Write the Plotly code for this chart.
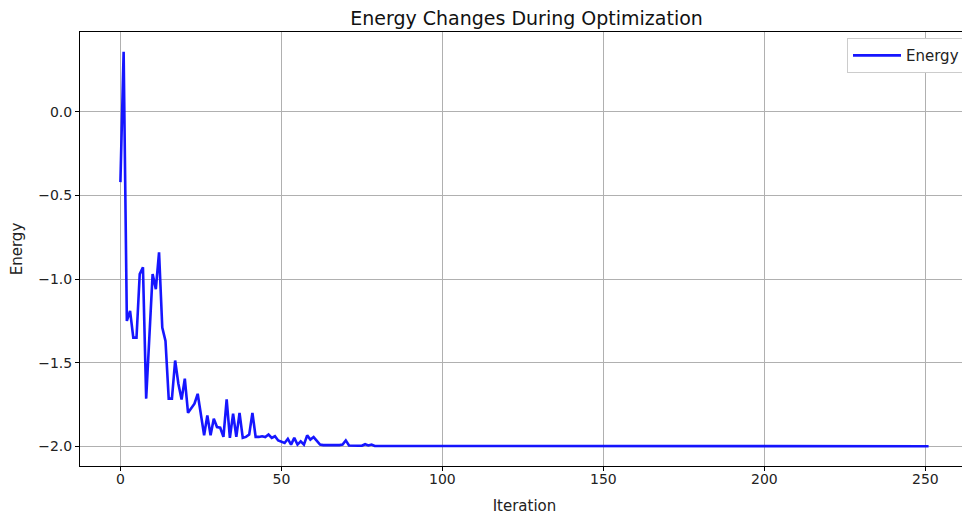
import plotly.graph_objects as go

# Energy values per iteration
energy_head = [
    -0.42, 0.36, -1.25, -1.19, -1.35, -1.35, -0.97, -0.93, -1.715, -1.35,
    -0.97, -1.06, -0.84, -1.29, -1.37, -1.715, -1.715, -1.487, -1.626, -1.72,
    -1.596, -1.80, -1.775, -1.745, -1.686, -1.825, -1.934, -1.815, -1.934, -1.835,
    -1.885, -1.889, -1.944, -1.72, -1.95, -1.805, -1.944, -1.80, -1.95, -1.944,
    -1.93, -1.80, -1.944, -1.944, -1.94, -1.945, -1.93, -1.95, -1.94, -1.965,
    -1.975, -1.98, -1.955, -1.99, -1.95, -1.99, -1.97, -1.99, -1.935, -1.96,
    -1.945, -1.97, -1.99, -1.993, -1.993, -1.995, -1.993, -1.995, -1.993, -1.99,
    -1.965, -1.995, -1.997, -1.997, -1.997, -1.997, -1.988, -1.995, -1.99, -1.998,
]
energy_tail = [
    -1.998, -1.998, -1.998, -1.999, -1.999, -1.999, -1.999, -1.999, -1.999, -1.999,
    -2.0, -2.0, -2.0, -2.0, -2.0, -2.0, -2.0, -2.0, -2.0, -2.0,
    -2.0, -2.0, -2.0, -2.0, -2.0, -2.0, -2.0, -2.0, -2.0, -2.0,
    -2.0, -2.0, -2.0, -2.0, -2.0, -2.0, -2.0, -2.0, -2.0, -2.0,
    -2.0, -2.0, -2.0, -2.0, -2.0, -2.0, -2.0, -2.0, -2.0, -2.0,
    -2.0, -2.0, -2.0, -2.0, -2.0, -2.0, -2.0, -2.0, -2.0, -2.0,
    -2.0, -2.0, -2.0, -2.0, -2.0, -2.0, -2.0, -2.0, -2.0, -2.0,
    -2.0, -2.0, -2.0, -2.0, -2.0, -2.0, -2.0, -2.0, -2.0, -2.0,
    -2.0, -2.0, -2.0, -2.0, -2.0, -2.0, -2.0, -2.0, -2.0, -2.0,
    -2.0, -2.0, -2.0, -2.0, -2.0, -2.0, -2.0, -2.0, -2.0, -2.0,
    -2.0, -2.0, -2.0, -2.0, -2.0, -2.0, -2.0, -2.0, -2.0, -2.0,
    -2.0, -2.0, -2.0, -2.0, -2.0, -2.0, -2.0, -2.0, -2.0, -2.0,
    -2.0, -2.0, -2.0, -2.0, -2.0, -2.0, -2.0, -2.0, -2.0, -2.0,
    -2.0, -2.0, -2.0, -2.0, -2.0, -2.0, -2.0, -2.0, -2.0, -2.0,
    -2.0, -2.0, -2.0, -2.0, -2.0, -2.0, -2.0, -2.0, -2.0, -2.0,
    -2.0, -2.0, -2.0, -2.0, -2.0, -2.0, -2.0, -2.0, -2.0, -2.0,
    -2.0, -2.0, -2.0, -2.0, -2.0, -2.0, -2.0, -2.0, -2.0, -2.0,
    -2.0, -2.0,
]
energy = energy_head + energy_tail
iterations = list(range(len(energy)))

x_ticks = [0, 50, 100, 150, 200, 250]
y_ticks = [-2.0, -1.5, -1.0, -0.5, 0.0]

title_text = "Energy Changes During Optimization"
x_label = "Iteration"
y_label = "Energy"
series_name = "Energy"

font_family = "DejaVu Sans, Liberation Sans, sans-serif"

fig = go.Figure()
fig.add_trace(go.Scatter(
    x=iterations, y=energy, mode="lines", name=series_name,
    line=dict(color="rgba(10,10,255,0.95)", width=2.6),
))

pad_x = 0.05 * (max(iterations) - min(iterations))
pad_y = 0.05 * (max(energy) - min(energy))

axis_common = dict(
    showline=True, linecolor="black", linewidth=1, mirror=True,
    ticks="outside", ticklen=4, tickcolor="black", tickwidth=1,
    showgrid=True, gridcolor="#b0b0b0", gridwidth=1,
    zeroline=False, tickfont=dict(size=14, color="#222"),
    automargin=False,
)

# page has an 8px body margin, so figure is sized to fit the 970x516 window
fig.update_layout(
    width=962, height=508,
    margin=dict(l=72, r=1, t=24, b=50),
    paper_bgcolor="white", plot_bgcolor="white",
    font=dict(family=font_family, color="#222"),
    title=dict(text=title_text, x=0.539, xanchor="center", y=0.979, yanchor="middle",
               font=dict(size=19, color="#111")),
    xaxis=dict(range=[min(iterations) - pad_x, max(iterations) + pad_x],
               tickvals=x_ticks, ticklabelstandoff=-4,
               title=dict(text=x_label, font=dict(size=15), standoff=14),
               **axis_common),
    yaxis=dict(range=[min(energy) - pad_y, max(energy) + pad_y],
               tickvals=y_ticks, tickformat=".1f",
               title=dict(text=y_label, font=dict(size=15), standoff=14),
               **axis_common),
    showlegend=True,
    legend=dict(x=0.9955, y=0.986, xanchor="right", yanchor="top",
                bgcolor="white", bordercolor="#cccccc", borderwidth=1,
                itemwidth=48,
                font=dict(size=15, color="#222")),
)

fig.write_html("out.html")
